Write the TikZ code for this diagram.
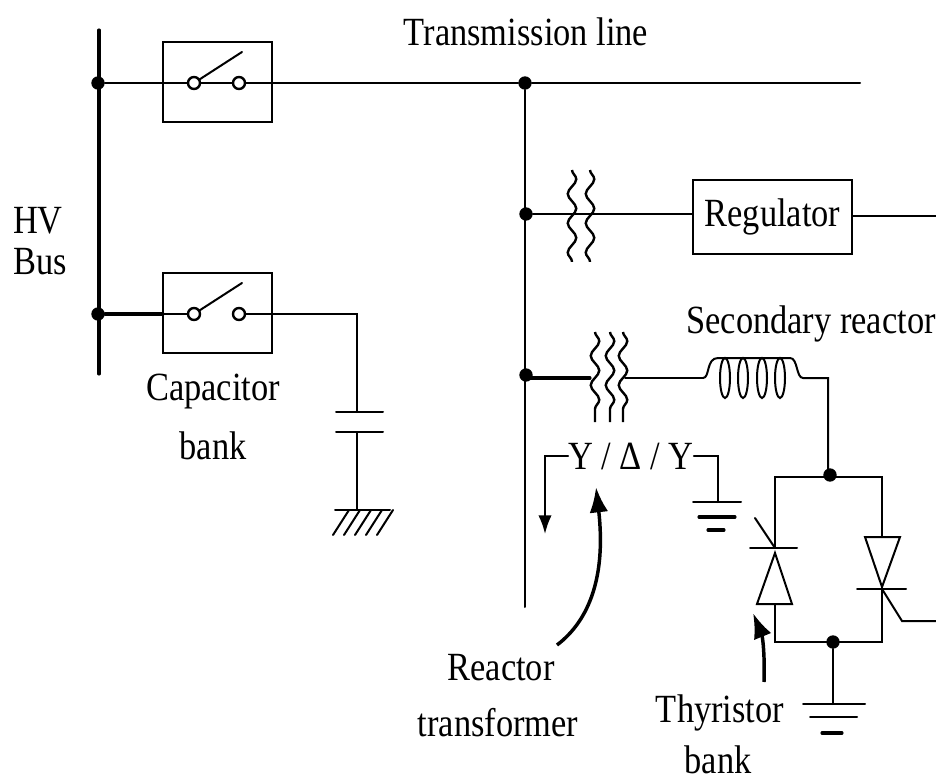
\documentclass[tikz,border=0pt]{standalone}
\usepackage{fontspec}
\setmainfont{Liberation Serif}
\usetikzlibrary{calc,arrows.meta,decorations.pathmorphing}
\tikzset{
  wire/.style={line width=1.5pt,line cap=round},
  heavy/.style={line width=2.3pt,line cap=round},
  lbl/.style={font=\fontsize{30}{34}\selectfont,xscale=0.86,inner sep=0,align=center},
  junct/.style={circle,fill=black,inner sep=0,minimum size=10pt},
  contact/.style={circle,draw,fill=white,line width=1.8pt,inner sep=0,minimum size=9pt},
  swbox/.style={rectangle,draw,line width=1.7pt,minimum width=81.5pt,minimum height=60.5pt},
  regbox/.style={rectangle,draw,line width=1.7pt,minimum width=119pt,minimum height=55pt,inner sep=0,font=\fontsize{30}{34}\selectfont},
  winding/.style={line width=1.8pt,decorate,decoration={snake,segment length=22pt,amplitude=3.2pt}},
  bigarrow/.style={line width=2.6pt,-{Latex[length=19pt,width=14pt]}}
}
\begin{document}
\begin{tikzpicture}[x=0.75pt,y=-0.75pt]
  \useasboundingbox (0,0) rectangle (936,781);
  \node[lbl] (linelbl) at (526,32) {Transmission line};
  \node[lbl] (hv) at (38,221) {HV};
  \node[lbl] (bus) at (40,262) {Bus};
  \node[lbl] (caplbl) at (213,392) {Capacitor};
  \node[lbl] (banklbl) at (213,446) {bank};
  \node[lbl] (seclbl) at (811,324) {Secondary reactor};
  \node[lbl] (ydy) at (631,456) {Y / Δ / Y};
  \node[lbl] (reaclbl) at (501,668) {Reactor};
  \node[lbl] (translbl) at (498,723) {transformer};
  \node[lbl] (thylbl) at (720,713) {Thyristor};
  \node[lbl] (thybank) at (718,760) {bank};

  \coordinate (bustop) at (99,30);
  \coordinate (busend) at (99,374);
  \draw[heavy] (bustop) -- (busend);
  \node[junct] (busa) at (98,83) {};
  \node[junct] (busb) at (98,314) {};

  \node[swbox] (swa) at (217.5,82) {};
  \node[swbox] (swb) at (217.5,313) {};
  \coordinate (bladea) at (242,52);
  \coordinate (bladeb) at (242,283);
  \draw[wire] (194,83) -- (bladea);
  \draw[wire] (194,314) -- (bladeb);

  \node[junct] (linej) at (525,83) {};
  \coordinate (lineend) at (860,83);
  \coordinate (feedend) at (525,607);
  \draw[wire] (busa) -- (239,83);
  \draw[wire] (239,83) -- (linej);
  \draw[wire] (linej) -- (lineend);
  \draw[wire] (linej) -- (feedend);
  \node[contact] (swal) at (194,83) {};
  \node[contact] (swar) at (239,83) {};

  \coordinate (capturn) at (357,314);
  \coordinate (capup) at (357,412);
  \coordinate (capdown) at (357,432);
  \coordinate (earthc) at (357,510);
  \draw[heavy] (busb) -- (163,314);
  \draw[wire] (163,314) -- (194,314);
  \draw[wire] (239,314) -- (capturn) -- (capup);
  \node[contact] (swbl) at (194,314) {};
  \node[contact] (swbr) at (239,314) {};
  \draw[wire] (capdown) -- (earthc);
  \draw[wire] ($(capup)+(-21,0)$) -- ($(capup)+(26,0)$);
  \draw[wire] ($(capdown)+(-21,0)$) -- ($(capdown)+(26,0)$);
  \draw[wire] ($(earthc)+(-22,0)$) -- ($(earthc)+(33,0)$);
  \foreach \i in {0,...,4}
    \draw[wire] ($(earthc)+(-8+\i*11,0)$) -- ++(-16,25);

  \node[junct] (regj) at (526,214) {};
  \node[regbox] (reg) at (772.5,217) {\scalebox{0.86}[1]{Regulator}};
  \coordinate (regout) at (936,216);
  \draw[wire] (regj) -- (reg.west |- regj);
  \draw[wire] (reg.east |- regout) -- (regout);
  \foreach \i in {572,590}
    \draw[winding] (\i,170) -- (\i,262);

  \node[junct] (reacj) at (526,375) {};
  \coordinate (coilin) at (703,378);
  \coordinate (coilout) at (803,378);
  \coordinate (coilturn) at (828,378);
  \node[junct] (topj) at (830,475) {};
  \draw[heavy] (reacj |- coilin) -- (590,378);
  \draw[wire] (625,378) -- (coilin);
  \draw[wire] (coilin) .. controls (710,378) and (706,358) .. (718,358) -- (790,358) .. controls (798,358) and (796,378) .. (coilout) -- (coilturn) -- (coilturn |- topj);
  \foreach \i in {725,743,762,780}
    \draw[wire] (\i,378) ellipse (5 and 20);
  \foreach \i in {595,610,623}
    \draw[winding] (\i,332) -- (\i,422);

  \coordinate (yleft) at (545,456);
  \coordinate (ytip) at (545,534);
  \coordinate (yright) at (718,456);
  \coordinate (earthy) at (718,502);
  \draw[wire,-{Latex[length=14pt,width=10pt]}] (ydy.west) -- (yleft) -- (ytip);
  \draw[wire] (ydy.east) -- (yright) -- (earthy);
  \draw[wire] ($(earthy)+(-25,0)$) -- ($(earthy)+(23,0)$);
  \draw[heavy] ($(earthy)+(-19,15)$) -- ($(earthy)+(17,15)$);
  \draw[heavy] ($(earthy)+(-10,28)$) -- ($(earthy)+(6,28)$);

  \coordinate (lefta) at (775,477);
  \coordinate (righta) at (882,477);
  \coordinate (leftk) at (775,548);
  \coordinate (leftb) at (775,604);
  \coordinate (rightb) at (882,537);
  \coordinate (rightk) at (882,589);
  \node[junct] (botj) at (833,642) {};
  \coordinate (leftc) at (775,642);
  \coordinate (rightc) at (882,642);
  \coordinate (gatel) at (755,518);
  \coordinate (gatem) at (902,621);
  \coordinate (gater) at (936,621);
  \coordinate (earthb) at (833,704);
  \draw[wire] (leftk) -- (lefta) -- (righta) -- (rightb);
  \draw[wire] (leftb) -- (leftc) -- (rightc) -- (rightk);
  \draw[wire] (botj) -- (earthb);
  \draw[wire] ($(leftk)+(-25,0)$) -- ($(leftk)+(22,0)$);
  \draw[wire] ($(rightk)+(-25,0)$) -- ($(rightk)+(24,0)$);
  \draw[wire] (757,604) -- (792,604) -- (775,553) -- cycle;
  \draw[wire] (865,537) -- (900,537) -- (882,587) -- cycle;
  \draw[wire] (leftk) -- (gatel);
  \draw[wire] (rightk) -- (gatem) -- (gater);
  \draw[wire] ($(earthb)+(-30,0)$) -- ($(earthb)+(32,0)$);
  \draw[wire] ($(earthb)+(-23,13)$) -- ($(earthb)+(24,13)$);
  \draw[heavy] ($(earthb)+(-11,29)$) -- ($(earthb)+(9,29)$);

  \coordinate (thytail) at (764,682);
  \coordinate (thytip) at (753,613);
  \coordinate (reactail) at (557,645);
  \coordinate (reactip) at (596,487);
  \draw[bigarrow] (thytail) .. controls (765,650) and (762,635) .. (thytip);
  \draw[bigarrow] (reactail) .. controls (590,620) and (606,575) .. (reactip);
\end{tikzpicture}
\end{document}
